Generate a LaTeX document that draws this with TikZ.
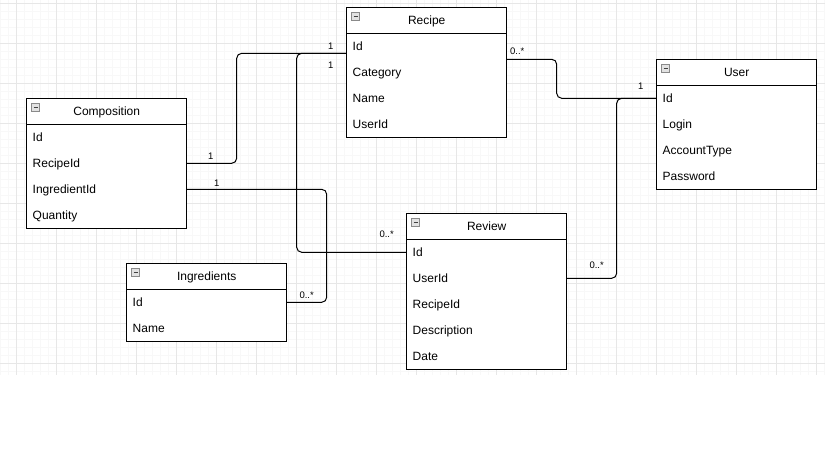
\documentclass[tikz,border=0pt]{standalone}
\usepackage{fontspec}
\setmainfont{Liberation Sans}
\usetikzlibrary{calc}

\definecolor{gridminor}{gray}{0.972}
\definecolor{gridmajor}{gray}{0.905}
\definecolor{iconfill}{HTML}{E2E2E2}
\definecolor{iconline}{HTML}{8A8A8A}

\tikzset{
  hdr/.style={draw, line width=1pt, fill=white, minimum width=160pt,
    minimum height=26pt, inner sep=0pt, outer sep=0pt, text height=8.6pt,
    text depth=0pt, font=\fontsize{12}{14}\selectfont},
  field/.style={minimum width=160pt, minimum height=26pt, inner xsep=6pt,
    inner ysep=0pt, outer sep=0pt, text width=148pt, align=left,
    text height=8.6pt, text depth=0pt, font=\fontsize{12}{14}\selectfont},
  conn/.style={line width=1pt, rounded corners=5pt},
  mult/.style={inner sep=0pt, text height=6.8pt, text depth=0pt,
    font=\fontsize{9.5}{11}\selectfont},
  gridline/.style={line width=0.8pt},
}

% #1 node name, #2 top-left corner, #3 title, #4 fields, #5 number of fields
\newcommand{\umlclass}[5]{%
  \draw[line width=1pt, fill=white] (#2) rectangle ++(160,26+26*#5);
  \node[hdr, anchor=north west] (#1) at (#2) {#3};
  \foreach \f [count=\i] in {#4}
    \node[field, anchor=north west] (#1-\f) at ($(#1.north west)+(0,26*\i)$) {\f};
  \draw[iconline, fill=iconfill, line width=0.6pt]
    ($(#1.north west)+(5,5.5)$) rectangle +(8,8);
  \draw[black!75, line width=1pt]
    ($(#1.north west)+(6.8,9.5)$) -- +(4.4,0);
}

\begin{document}
\begin{tikzpicture}[x=1pt, y=-1pt]
  \useasboundingbox[fill=white] (0,0) rectangle (825,462);

  % background grid
  \foreach \x in {0.7,8.7,...,825}
    \draw[gridline, gridminor] (\x,0) -- (\x,375);
  \foreach \y in {3.3,11.3,...,375}
    \draw[gridline, gridminor] (0,\y) -- (825,\y);
  \foreach \x in {16.7,56.7,...,825}
    \draw[gridline, gridmajor] (\x,0) -- (\x,375);
  \foreach \y in {3.3,43.3,...,375}
    \draw[gridline, gridmajor] (0,\y) -- (825,\y);

  % classes
  \umlclass{recipe}{346.7,7.3}{Recipe}{Id,Category,Name,UserId}{4}
  \umlclass{user}{656.7,59.3}{User}{Id,Login,AccountType,Password}{4}
  \umlclass{composition}{26.7,98.3}{Composition}{Id,RecipeId,IngredientId,Quantity}{4}
  \umlclass{review}{406.7,213.3}{Review}{Id,UserId,RecipeId,Description,Date}{5}
  \umlclass{ingredients}{126.7,263.3}{Ingredients}{Id,Name}{2}

  % associations
  \draw[conn] (composition-RecipeId.east) -| (236.7,53.3)
    -- ([yshift=6pt]recipe-Id.south west);
  \draw[conn] (review-Id.west) -| (296.7,53.3)
    -- ([yshift=6pt]recipe-Id.south west);
  \draw[conn] (composition-IngredientId.east) -| (326.7,302.3)
    -- (ingredients-Id.east);
  \draw[conn] (recipe-Id.south east) -| (556.7,98.3) -- (user-Id.west);
  \draw[conn] (review-UserId.east) -| (616.7,98.3) -- (user-Id.west);

  % multiplicities
  \node[mult] (m1) at (330.7,45.7) {1};
  \node[mult] (m2) at (330.7,64.7) {1};
  \node[mult] (m3) at (210.7,156.3) {1};
  \node[mult] (m4) at (216.7,182.7) {1};
  \node[mult] (m5) at (386.7,234.3) {0..*};
  \node[mult] (m6) at (306.7,295) {0..*};
  \node[mult] (m7) at (517.3,50.7) {0..*};
  \node[mult] (m8) at (640.7,85.7) {1};
  \node[mult] (m9) at (596.7,265) {0..*};
\end{tikzpicture}
\end{document}
